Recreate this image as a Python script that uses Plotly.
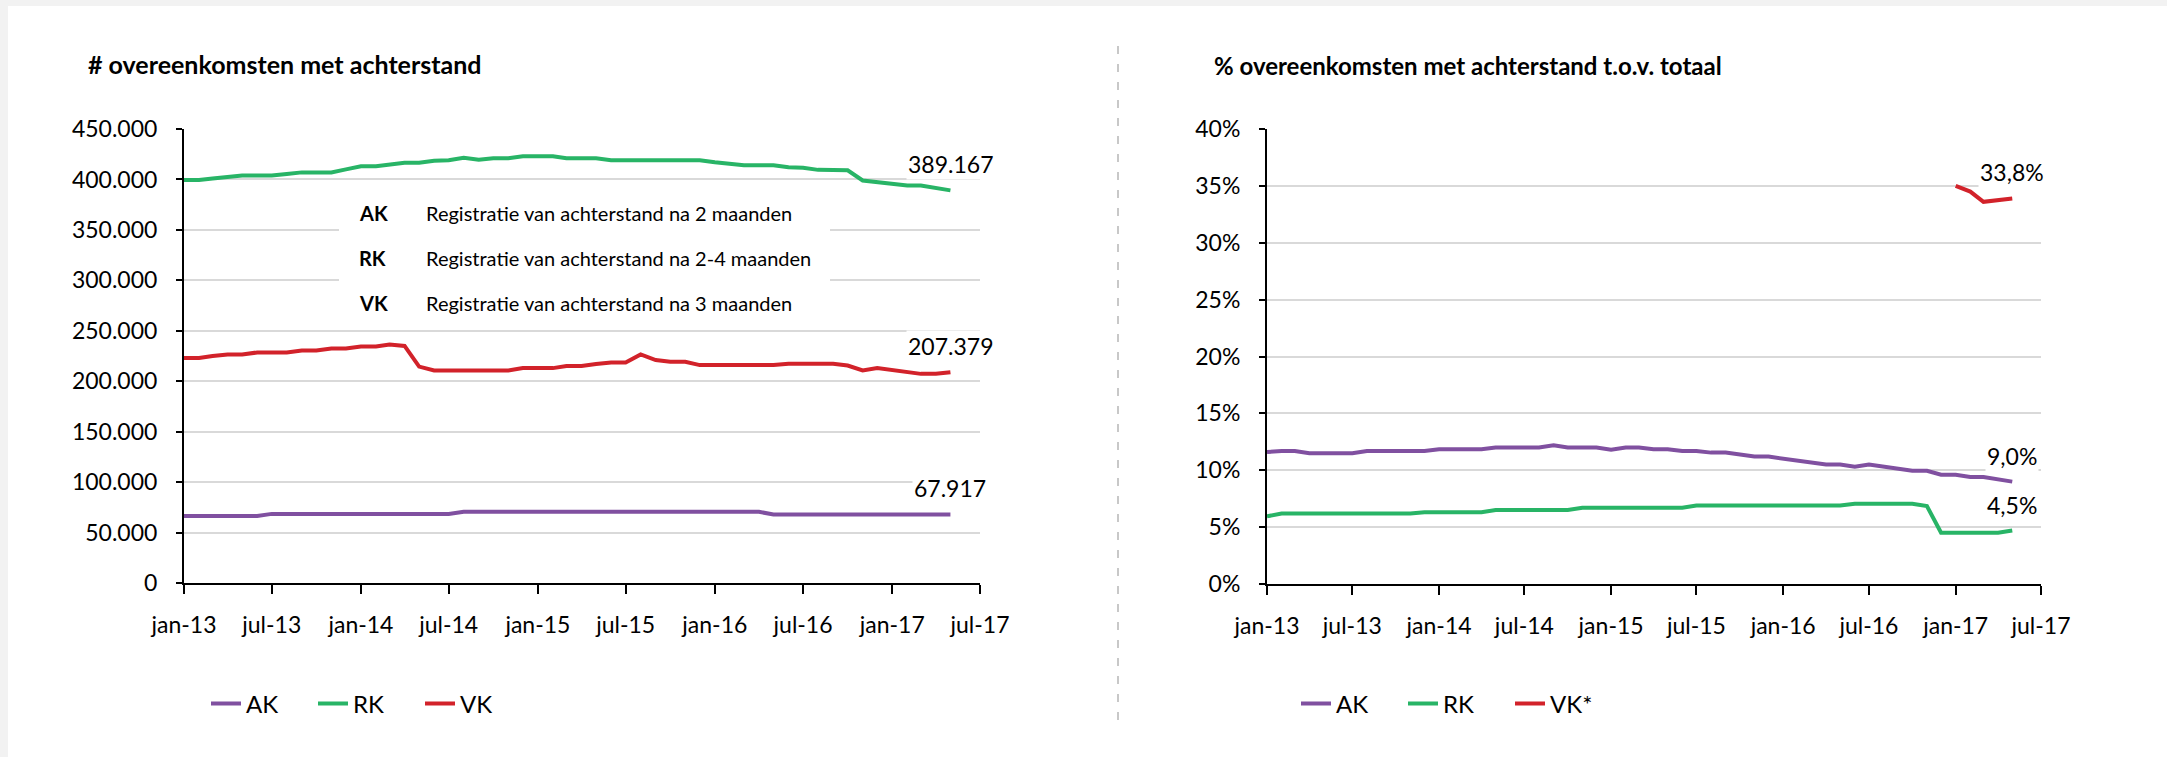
import plotly.graph_objects as go
import pandas as pd

# monthly data jan-13 .. mei-17
months = pd.date_range("2013-01-01", periods=53, freq="MS")

ak_count = [66500] * 6 + [68500] * 13 + [70500] * 21 + [68000] * 12 + [67917]
rk_count = [399500, 399500, 401000, 403000, 404000, 404000, 404000, 405500, 407000, 407000,
            407000, 410000, 413000, 413000, 415000, 416500, 416500, 418500, 419000, 421500,
            419500, 421000, 421000, 423000, 423000, 423000, 421000, 421000, 421000, 419000,
            419000, 419000, 419000, 419000, 419000, 419000, 417000, 415500, 414000, 414000,
            414000, 412000, 411500, 409500, 409000, 409000, 399000, 397500, 395500, 394000,
            394000, 392000, 389167]
vk_count = [223000, 223000, 225000, 226500, 226500, 228500, 228500, 228500, 230500, 230500,
            232500, 232500, 234500, 234500, 236500, 235000, 214500, 210700, 210700, 210700,
            210700, 210700, 210700, 213000, 213000, 213000, 215000, 215000, 217000, 218500,
            218500, 226500, 221000, 219300, 219300, 216000, 216000, 216000, 216000, 216000,
            216000, 217300, 217300, 217300, 217300, 215500, 210700, 213000, 211300, 209300,
            207300, 207300, 209000]

ak_pct = [11.6, 11.7, 11.7, 11.5, 11.5, 11.5, 11.5, 11.7, 11.7, 11.7, 11.7, 11.7, 11.85, 11.85,
          11.85, 11.85, 12.0, 12.0, 12.0, 12.0, 12.2, 12.0, 12.0, 12.0, 11.8, 12.0, 12.0, 11.85,
          11.85, 11.7, 11.7, 11.55, 11.55, 11.4, 11.2, 11.2, 11.0, 10.8, 10.65, 10.5, 10.5, 10.3,
          10.5, 10.3, 10.1, 9.95, 9.95, 9.6, 9.6, 9.4, 9.4, 9.2, 9.0]
rk_pct = [5.95] + [6.2] * 10 + [6.3] * 5 + [6.5] * 6 + [6.7] * 8 + [6.9] * 11 + [7.05] * 5 \
         + [6.85] + [4.5] * 5 + [4.7]
vk_pct = [None] * 48 + [35.0, 34.5, 33.6, 33.75, 33.9]

left_names = ["AK", "RK", "VK"]
right_names = ["AK", "RK", "VK*"]
end_labels_left = ["67.917", "389.167", "207.379"]
end_labels_right = ["9,0%", "4,5%", "33,8%"]

tick_dates = pd.date_range("2013-01-01", "2017-07-01", freq="6MS")
tick_labels = ["jan-13", "jul-13", "jan-14", "jul-14", "jan-15", "jul-15",
               "jan-16", "jul-16", "jan-17", "jul-17"]

definitions = [("AK", "Registratie van achterstand na 2 maanden"),
               ("RK", "Registratie van achterstand na 2-4 maanden"),
               ("VK", "Registratie van achterstand na 3 maanden")]

colors = ["#8050a0", "#28b466", "#d2222a"]

W, H = 2167, 757


def px(x):
    return x / W


def py(y):
    return 1 - y / H


fig = go.Figure()

for name, vals, col in zip(left_names, [ak_count, rk_count, vk_count], colors):
    fig.add_trace(go.Scatter(x=months, y=vals, name=name, mode="lines",
                             line=dict(color=col, width=4), xaxis="x", yaxis="y",
                             legend="legend"))

for name, vals, col in zip(right_names, [ak_pct, rk_pct, vk_pct], colors):
    fig.add_trace(go.Scatter(x=months, y=vals, name=name, mode="lines",
                             line=dict(color=col, width=4), xaxis="x2", yaxis="y2",
                             legend="legend2"))

xcommon = dict(type="date", range=["2013-01-01", "2017-07-01"], tickvals=tick_dates,
               ticktext=tick_labels, showline=True, linecolor="black", linewidth=2,
               ticks="outside", ticklen=9, tickwidth=2, tickcolor="black", showgrid=False,
               zeroline=False, ticklabelstandoff=11, tickfont=dict(size=23), automargin=False)
ycommon = dict(showline=True, linecolor="black", linewidth=2, ticks="outside", ticklen=6,
               tickwidth=2, tickcolor="black", gridcolor="#d9d9d9", gridwidth=2,
               zeroline=False, ticklabelstandoff=14, tickfont=dict(size=23), automargin=False)

fig.update_layout(
    width=W, height=H,
    margin=dict(l=0, r=0, t=0, b=0, autoexpand=False),
    paper_bgcolor="white", plot_bgcolor="white",
    separators=",.",
    font=dict(family="Lato", size=22, color="black"),
    showlegend=True,
    xaxis=dict(domain=[px(184), px(980)], anchor="y", **xcommon),
    yaxis=dict(domain=[py(583), py(129)], anchor="x", range=[0, 450000], dtick=50000,
               tickformat=",d", **ycommon),
    xaxis2=dict(domain=[px(1267), px(2041)], anchor="y2", **xcommon),
    yaxis2=dict(domain=[py(584), py(129)], anchor="x2", range=[0, 40], dtick=5,
                ticksuffix="%", **ycommon),
    legend=dict(x=px(206), y=py(704), xanchor="left", yanchor="middle", orientation="h",
                entrywidth=62, entrywidthmode="pixels", font=dict(size=24),
                bgcolor="rgba(0,0,0,0)"),
    legend2=dict(x=px(1296), y=py(704), xanchor="left", yanchor="middle", orientation="h",
                 entrywidth=62, entrywidthmode="pixels", font=dict(size=24),
                 bgcolor="rgba(0,0,0,0)"),
)

# end-of-line value labels
for vals, lab in zip([ak_count, rk_count, vk_count], end_labels_left):
    fig.add_annotation(x=months[-1], y=vals[-1], xref="x", yref="y", text=lab,
                       showarrow=False, yshift=26, bgcolor="white", font=dict(size=23))
for vals, lab in zip([ak_pct, rk_pct, vk_pct], end_labels_right):
    fig.add_annotation(x=months[-1], y=vals[-1], xref="x2", yref="y2", text=lab,
                       showarrow=False, yshift=26, bgcolor="white", font=dict(size=23))

# titles
fig.add_annotation(x=px(86), y=py(64), xref="paper", yref="paper", xanchor="left",
                   yanchor="middle", showarrow=False, font=dict(size=25),
                   text="<b># overeenkomsten met achterstand</b>")
fig.add_annotation(x=px(1212), y=py(66), xref="paper", yref="paper", xanchor="left",
                   yanchor="middle", showarrow=False, font=dict(size=24),
                   text="<b>% overeenkomsten met achterstand t.o.v. totaal</b>")

# definitions box
fig.add_shape(type="rect", xref="paper", yref="paper", x0=px(339), x1=px(830),
              y0=py(322), y1=py(190), fillcolor="white", line_width=0, layer="above")
for i, (code, desc) in enumerate(definitions):
    yy = py(213 + 45 * i)
    fig.add_annotation(x=px(357), y=yy, xref="paper", yref="paper", xanchor="left",
                       yanchor="middle", showarrow=False, text="<b>" + code + "</b>",
                       font=dict(size=20))
    fig.add_annotation(x=px(424), y=yy, xref="paper", yref="paper", xanchor="left",
                       yanchor="middle", showarrow=False, text=desc, font=dict(size=20))

# grey frame and dashed divider
fig.add_shape(type="rect", xref="paper", yref="paper", x0=0, x1=px(8), y0=0, y1=1,
              fillcolor="#f2f2f2", line_width=0, layer="above")
fig.add_shape(type="rect", xref="paper", yref="paper", x0=0, x1=1, y0=py(6), y1=1,
              fillcolor="#f2f2f2", line_width=0, layer="above")
fig.add_shape(type="line", xref="paper", yref="paper", x0=px(1118), x1=px(1118),
              y0=py(720), y1=py(39), line=dict(color="#c8c8c8", width=2, dash="8px,10px"))

fig.write_html("out.html", config={"displayModeBar": False},
               post_script="document.body.style.margin='0';")
